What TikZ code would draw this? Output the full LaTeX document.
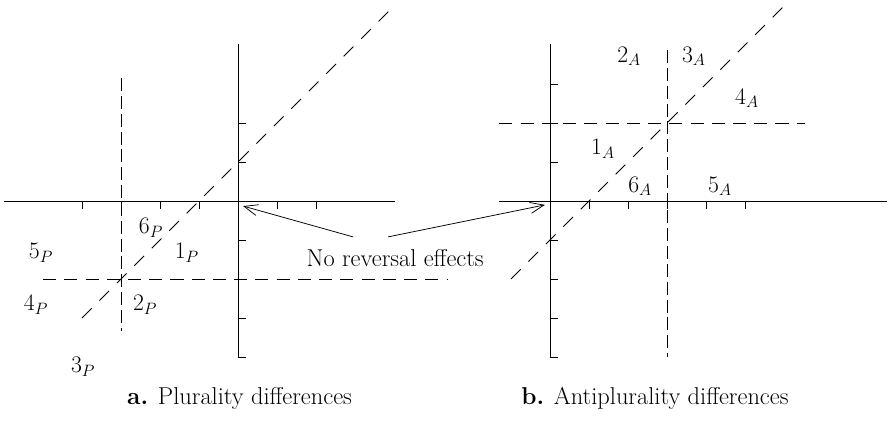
\documentclass[tikz,border=0pt]{standalone}
\usepackage{amsmath}
\usetikzlibrary{arrows.meta}

\begin{document}
\begin{tikzpicture}[x=1cm,y=1cm,
    every node/.style={font=\fontsize{17.8}{21}\selectfont, inner sep=0pt},
    axis/.style={line width=0.65pt},
    guide/.style={line width=0.65pt, dash pattern=on 9.5pt off 6pt},
    upright/.style={line width=0.65pt, dash pattern=on 9.5pt off 3.5pt},
    slope/.style={line width=0.65pt, dash pattern=on 10pt off 8pt},
    pointer/.style={line width=0.55pt, -{Straight Barb[length=10pt,width=8pt]}}]
  \useasboundingbox (-6.103,-5.718) rectangle (16.795,5.154);

  % a. plurality
  \draw[axis] (-6,0) -- (4.03,0);
  \draw[axis] (0,4.03) -- (0,-4);
  \foreach \x in {-4,-3,-2,-1,1,2} \draw[axis] (\x,0) -- (\x,-0.2);
  \foreach \y in {2,1,-1,-2,-3,-4} \draw[axis] (0,\y) -- (0.2,\y);
  \draw[upright] (-3,3.15) -- (-3,-3.33);
  \draw[guide] (-5,-2) -- (5.36,-2);
  \draw[slope] (-4,-3) -- (4,5);
  \node (p6) at (-2.23,-0.69) {$6_P$};
  \node (p5) at (-5.05,-1.33) {$5_P$};
  \node (p1) at (-1.31,-1.33) {$1_P$};
  \node (p4) at (-5.18,-2.67) {$4_P$};
  \node (p2) at (-2.38,-2.67) {$2_P$};
  \node (p3) at (-3.97,-4.26) {$3_P$};
  \node[anchor=base] (capA) at (0.04,-5.23) {\textbf{a.} Plurality differences};

  % b. antiplurality
  \begin{scope}[xshift=8cm]
    \draw[axis] (-1.3,0) -- (8.64,0);
    \draw[axis] (0,4.03) -- (0,-4);
    \foreach \x in {1,...,5} \draw[axis] (\x,0) -- (\x,-0.2);
    \foreach \y in {3,2,1,-1,-2,-3,-4} \draw[axis] (0,\y) -- (0.2,\y);
    \draw[upright] (3,3.87) -- (3,-4);
    \draw[guide] (-1.3,2) -- (6.54,2);
    \draw[slope] (-1,-2) -- (6,5);
    \node (a2) at (2.03,3.71) {$2_A$};
    \node (a3) at (3.69,3.71) {$3_A$};
    \node (a4) at (5.05,2.63) {$4_A$};
    \node (a1) at (1.36,1.33) {$1_A$};
    \node (a6) at (2.31,0.38) {$6_A$};
    \node (a5) at (4.36,0.38) {$5_A$};
    \node[anchor=base] (capB) at (2.69,-5.23) {\textbf{b.} Antiplurality differences};
  \end{scope}

  % note with its two arrows
  \node[anchor=base] (note) at (4.03,-1.69) {No reversal effects};
  \coordinate (fromL) at (2.95,-0.92);
  \coordinate (fromR) at (3.85,-0.92);
  \coordinate (tipL) at (0.13,-0.13);
  \coordinate (tipR) at (7.87,-0.10);
  \draw[pointer] (fromL) -- (tipL);
  \draw[pointer] (fromR) -- (tipR);
\end{tikzpicture}
\end{document}
